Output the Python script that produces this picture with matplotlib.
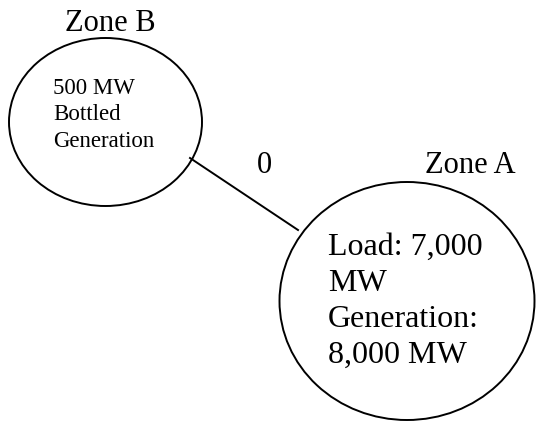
# Two-zone diagram: bottled generation in Zone B, tie line to Zone A

import matplotlib
matplotlib.use("Agg")
import matplotlib.pyplot as plt
from matplotlib.patches import Ellipse

# zone data
zone_names = ["Zone B", "Zone A"]
zone_lines = [["500 MW", "Bottled", "Generation"],
              ["Load: 7,000", "MW", "Generation:", "8,000 MW"]]
flow_label = "0"

plt.rcParams["font.family"] = ["Liberation Serif", "DejaVu Serif"]

fig = plt.figure(figsize=(5.36, 4.21), dpi=100)
ax = fig.add_axes([0, 0, 1, 1])
ax.set_xlim(0, 536)
ax.set_ylim(421, 0)
ax.axis("off")

# zone circles (center x, center y, width, height) in pixels
centers = [(105.5, 122), (407, 301)]
sizes = [(193, 168), (255, 238)]
for (cx, cy), (w, h) in zip(centers, sizes):
    ax.add_patch(Ellipse((cx, cy), w, h, fill=False, ec="black", lw=1.4))

# tie line
ax.plot([190, 298], [158, 230], color="black", lw=1.4)

# zone titles
ax.text(110, 31, zone_names[0], fontsize=22, ha="center", va="baseline")
ax.text(470, 173, zone_names[1], fontsize=22, ha="center", va="baseline")
ax.text(264, 173, flow_label, fontsize=22, ha="center", va="baseline")

# zone B text
for i, line in enumerate(zone_lines[0]):
    ax.text(53, 94 + 26.5 * i, line, fontsize=16.5, va="baseline")

# zone A text
for i, line in enumerate(zone_lines[1]):
    ax.text(328, 255 + 36 * i, line, fontsize=23, va="baseline")

fig.savefig("out.png", dpi=100)
